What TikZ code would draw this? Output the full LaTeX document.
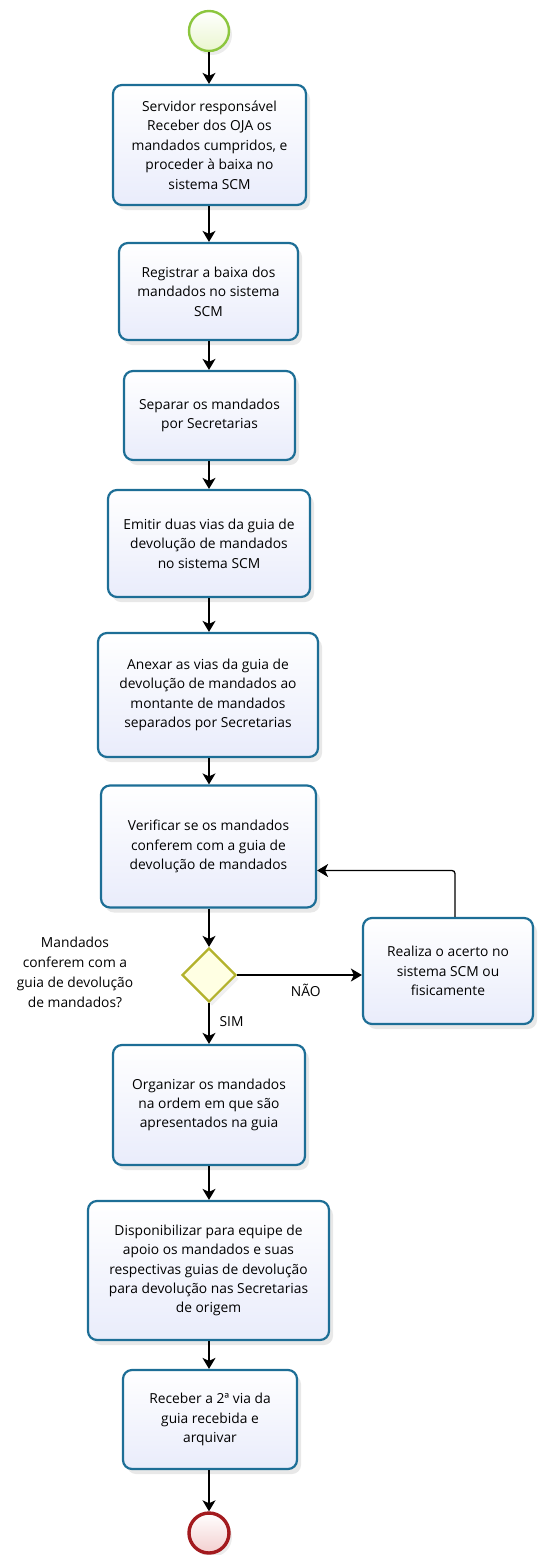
\documentclass[tikz,border=0pt]{standalone}
\usepackage{fontspec}
\setmainfont{Open Sans}
\usetikzlibrary{shapes.geometric,arrows.meta,shadows}
\definecolor{tarefaborda}{HTML}{1D6E96}
\definecolor{tarefafundo}{HTML}{E9ECFB}
\definecolor{inicioborda}{HTML}{8CC63E}
\definecolor{iniciofundo}{HTML}{EAF6CF}
\definecolor{fimborda}{HTML}{A31A1E}
\definecolor{fimfundo}{HTML}{F3CFCF}
\definecolor{decisaoborda}{HTML}{B3B22C}
\definecolor{decisaofundo}{HTML}{FFFFE3}

\begin{document}
\begin{tikzpicture}[x=1pt,y=-1pt,
	tarefa/.style={draw=tarefaborda, line width=2.2pt, rounded corners=9pt, top color=white, bottom color=tarefafundo,
		drop shadow={opacity=0.18, shadow xshift=4pt, shadow yshift=-5pt},
		align=center, inner sep=2pt, font=\fontsize{13.8}{19.4}\selectfont},
	inicio/.style={circle, draw=inicioborda, line width=2.4pt, inner sep=0pt, minimum size=40pt,
		top color=white, bottom color=iniciofundo, drop shadow={opacity=0.15, shadow xshift=3pt, shadow yshift=-4pt}},
	fim/.style={circle, draw=fimborda, line width=3.4pt, inner sep=0pt, minimum size=40pt,
		top color=white, bottom color=fimfundo, drop shadow={opacity=0.15, shadow xshift=3pt, shadow yshift=-4pt}},
	decisao/.style={diamond, draw=decisaoborda, line width=2.2pt, inner sep=0pt, minimum width=54pt, minimum height=54pt,
		fill=decisaofundo, drop shadow={opacity=0.12, shadow xshift=3pt, shadow yshift=-4pt}},
	fluxo/.style={line width=1.3pt, -{Stealth[length=11pt, width=13pt, inset=3pt]}},
	rotulo/.style={font=\fontsize{13.8}{19.4}\selectfont, inner sep=1pt}]
	\useasboundingbox (0,0) rectangle (538,1555);

	\node[inicio] (inicio) at (209,31) {};
	\node[tarefa, minimum width=193pt, minimum height=120pt] (receber) at (209.5,145)
		{Servidor responsável\\Receber dos OJA os\\mandados cumpridos, e\\proceder à baixa no\\sistema SCM};
	\node[tarefa, minimum width=179pt, minimum height=97pt] (registrar) at (208.5,291.5)
		{Registrar a baixa dos\\mandados no sistema\\SCM};
	\node[tarefa, minimum width=171pt, minimum height=89pt] (separar) at (209.5,415.5)
		{Separar os mandados\\por Secretarias};
	\node[tarefa, minimum width=202pt, minimum height=107pt] (emitir) at (209,543.5)
		{Emitir duas vias da guia de\\devolução de mandados\\no sistema SCM};
	\node[tarefa, minimum width=220pt, minimum height=124pt] (anexar) at (208,695)
		{Anexar as vias da guia de\\devolução de mandados ao\\montante de mandados\\separados por Secretarias};
	\node[tarefa, minimum width=215pt, minimum height=122pt] (verificar) at (208.5,846.5)
		{Verificar se os mandados\\conferem com a guia de\\devolução de mandados};
	\node[decisao] (confere) at (209,975) {};
	\node[rotulo, align=center, font=\fontsize{13.8}{20}\selectfont] (pergunta) at (75,972)
		{Mandados\\conferem com a\\guia de devolução\\de mandados?};
	\node[tarefa, minimum width=170pt, minimum height=106pt] (acerto) at (448,971)
		{Realiza o acerto no\\sistema SCM ou\\fisicamente};
	\node[tarefa, minimum width=192pt, minimum height=120pt] (organizar) at (209,1105)
		{Organizar os mandados\\na ordem em que são\\apresentados na guia};
	\node[tarefa, minimum width=241pt, minimum height=139pt] (disponibilizar) at (208.5,1270.5)
		{Disponibilizar para equipe de\\apoio os mandados e suas\\respectivas guias de devolução\\para devolução nas Secretarias\\de origem};
	\node[tarefa, minimum width=174pt, minimum height=99pt] (arquivar) at (210,1419.5)
		{Receber a 2ª via da\\guia recebida e\\arquivar};
	\node[fim] (fim) at (209,1533) {};

	\draw[fluxo] (inicio) -- (inicio |- receber.north);
	\draw[fluxo] (inicio |- receber.south) -- (inicio |- registrar.north);
	\draw[fluxo] (inicio |- registrar.south) -- (inicio |- separar.north);
	\draw[fluxo] (inicio |- separar.south) -- (inicio |- emitir.north);
	\draw[fluxo] (inicio |- emitir.south) -- (inicio |- anexar.north);
	\draw[fluxo] (inicio |- anexar.south) -- (inicio |- verificar.north);
	\draw[fluxo] (inicio |- verificar.south) -- (confere);
	\draw[fluxo] (confere) -- node[rotulo, pos=0.55, below=7pt] {NÃO} (acerto.west |- confere);
	\draw[fluxo] (confere) -- node[rotulo, pos=0.45, right=9pt] {SIM} (inicio |- organizar.north);
	\draw[fluxo, rounded corners=3pt] ([xshift=7pt]acerto.north) |- ([yshift=-24pt]verificar.east);
	\draw[fluxo] (inicio |- organizar.south) -- (inicio |- disponibilizar.north);
	\draw[fluxo] (inicio |- disponibilizar.south) -- (inicio |- arquivar.north);
	\draw[fluxo] (inicio |- arquivar.south) -- (fim);
\end{tikzpicture}
\end{document}
